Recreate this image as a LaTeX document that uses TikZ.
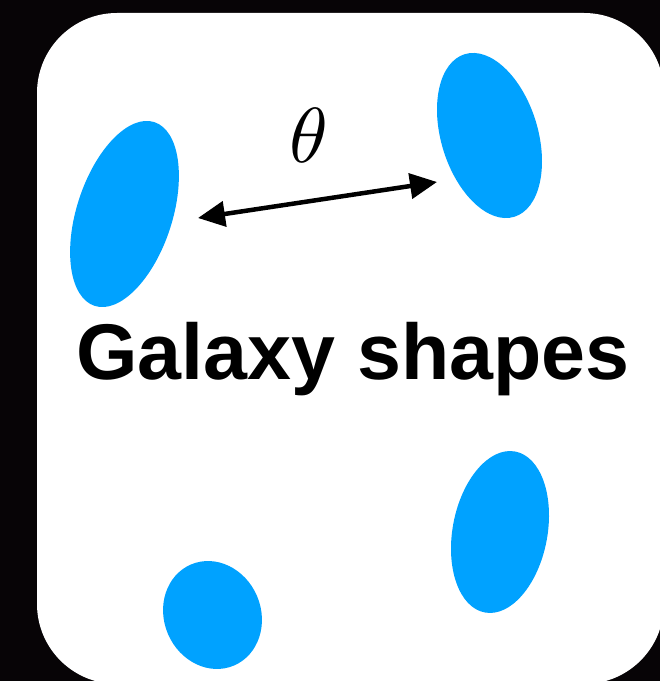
\documentclass[tikz,border=0pt]{standalone}
\usepackage{fontspec}
\newfontfamily\labelfont{Liberation Sans}
\usetikzlibrary{shapes.geometric,arrows.meta}
\definecolor{spacebg}{RGB}{7,4,6}
\definecolor{galblue}{RGB}{0,162,255}
\tikzset{
  galaxy/.style={ellipse, fill=galblue, draw=none, inner sep=0pt},
  seplink/.style={line width=4.5pt, {Triangle[length=27pt,width=25pt]}-{Triangle[length=27pt,width=25pt]}},
  card/.style={fill=white, rounded corners=80pt}
}
\begin{document}
\begin{tikzpicture}[x=1pt,y=1pt]
\useasboundingbox (0,0) rectangle (660,681);
\fill[spacebg] (0,0) rectangle (660,681);
\fill[card] (37,668) rectangle (664,-3);
\node[galaxy, minimum width=193.2pt, minimum height=95.6pt, rotate=72] (g1) at (124.5,467) {};
\node[galaxy, minimum width=170pt, minimum height=96.8pt, rotate=106.9] (g2) at (489.5,545.5) {};
\node[galaxy, minimum width=163.8pt, minimum height=94.8pt, rotate=79.3] (g3) at (500,149) {};
\node[galaxy, minimum width=109.8pt, minimum height=96.8pt, rotate=113] (g4) at (212.5,66) {};
\coordinate (a1) at (198,463);
\coordinate (a2) at (437,499);
\draw[seplink] (a1) -- (a2);
\node[inner sep=0pt, scale=7.8] (theta) at (308.5,546) {$\theta$};
\node[inner sep=0pt, anchor=base] (title) at (353,301) {\labelfont\bfseries\fontsize{79}{81}\selectfont Galaxy shapes};
\end{tikzpicture}
\end{document}
